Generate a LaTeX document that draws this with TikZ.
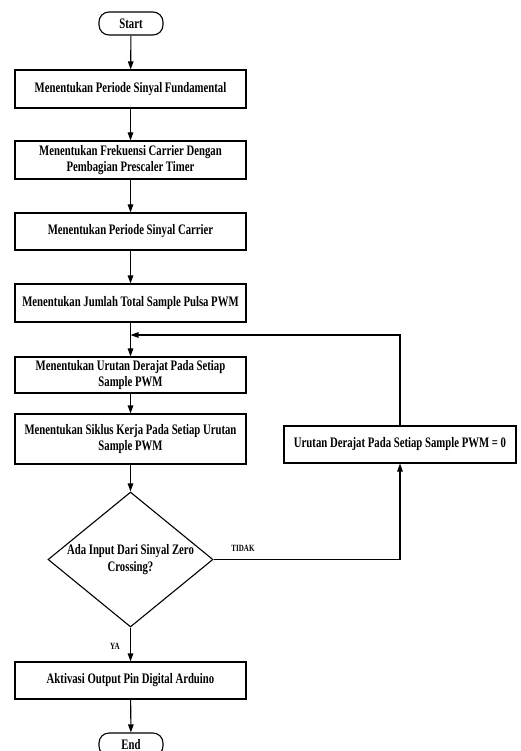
\documentclass[tikz,border=0pt]{standalone}
\usepackage{fontspec}
\setmainfont{Liberation Serif}[FakeStretch=0.74]
\usetikzlibrary{shapes.geometric,arrows.meta}
\begin{document}
\begin{tikzpicture}[x=1pt,y=-1pt,
  every node/.style={font=\fontsize{14.5}{16.5}\selectfont\bfseries, inner sep=0pt, align=center},
  proc/.style={draw, line width=1.1pt, minimum width=231pt},
  term/.style={draw, line width=1.1pt, rounded corners=10pt, minimum width=64pt, minimum height=23pt},
  dec/.style={draw, line width=1.1pt, diamond, minimum width=165pt, minimum height=135pt, aspect=1.22},
  lbl/.style={font=\fontsize{9.5}{11}\selectfont\bfseries},
  arr/.style={line width=1.1pt, -{Triangle[length=8pt,width=5.5pt]}},
  ln/.style={line width=1.1pt}]
\useasboundingbox[fill=white] (0,0) rectangle (520,751);
\node[term] (start) at (131,23.5) {Start};
\node[proc, minimum height=38pt] (b1) at (130.5,89) {Menentukan Periode Sinyal Fundamental};
\node[proc, minimum height=38pt] (b2) at (130.5,160) {Menentukan Frekuensi Carrier Dengan\\Pembagian Prescaler Timer};
\node[proc, minimum height=37pt] (b3) at (130.5,231.5) {Menentukan Periode Sinyal Carrier};
\node[proc, minimum height=38pt] (b4) at (130.5,303) {Menentukan Jumlah Total Sample Pulsa PWM};
\node[proc, minimum height=36pt] (b5) at (130.5,375) {Menentukan Urutan Derajat Pada Setiap\\Sample PWM};
\node[proc, minimum height=50pt] (b6) at (130.5,439) {Menentukan Siklus Kerja Pada Setiap Urutan\\Sample PWM};
\node[proc, minimum width=232pt, minimum height=37pt] (r) at (400,444.5) {Urutan Derajat Pada Setiap Sample PWM = 0};
\node[dec] (d) at (130.5,559.5) {};
\node at (130.5,559.5) {Ada Input Dari Sinyal Zero\\Crossing?};
\node[proc, minimum height=37pt] (b7) at (130.5,680.5) {Aktivasi Output Pin Digital Arduino};
\node[term] (end) at (131,744.5) {End};
\coordinate (j) at (130.5,335);
\coordinate (rt) at (400,335);
\coordinate (dr) at (400,559.5);
\draw[arr] (start) -- (b1);
\draw[arr] (b1) -- (b2);
\draw[arr] (b2) -- (b3);
\draw[arr] (b3) -- (b4);
\draw[arr] (b4) -- (b5);
\draw[arr] (b5) -- (b6);
\draw[arr] (b6) -- (d);
\draw[arr] (d) -- (b7);
\draw[arr] (b7) -- (end);
\draw[arr] (d.east) -- (dr) -- (r.south);
\draw[arr] (r.north) -- (rt) -- (j);
\node[lbl] at (243,548) {TIDAK};
\node[lbl] at (115,646) {YA};
\end{tikzpicture}
\end{document}
